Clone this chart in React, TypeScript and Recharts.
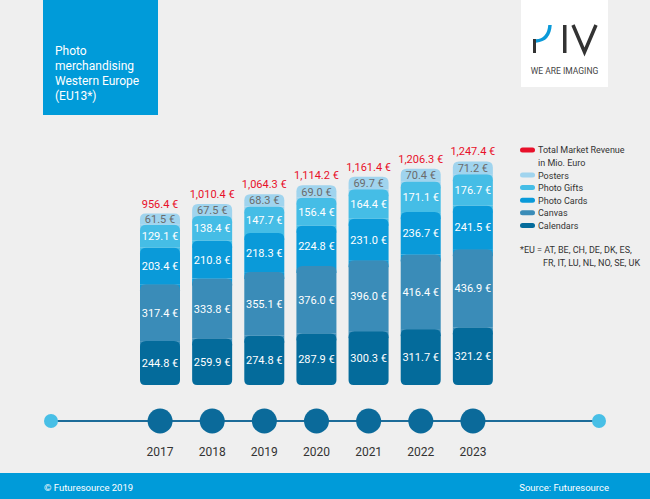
import { BarChart, Bar, XAxis, YAxis, LabelList } from "recharts";

const years = ["2017", "2018", "2019", "2020", "2021", "2022", "2023"];
const calendars = [244.8, 259.9, 274.8, 287.9, 300.3, 311.7, 321.2];
const canvas = [317.4, 333.8, 355.1, 376.0, 396.0, 416.4, 436.9];
const photoCards = [203.4, 210.8, 218.3, 224.8, 231.0, 236.7, 241.5];
const photoGifts = [129.1, 138.4, 147.7, 156.4, 164.4, 171.1, 176.7];
const posters = [61.5, 67.5, 68.3, 69.0, 69.7, 70.4, 71.2];
const totals = [956.4, 1010.4, 1064.3, 1114.2, 1161.4, 1206.3, 1247.4];

const COLORS = {
  calendars: "#046b9b",
  canvas: "#3a8cb8",
  photoCards: "#0a9ad9",
  photoGifts: "#45bde6",
  posters: "#a0d4ee",
  total: "#e8102a",
};

const FONT = "Roboto, 'DejaVu Sans', sans-serif";

const data = years.map((year, i) => ({
  year,
  calendars: calendars[i],
  canvas: canvas[i],
  photoCards: photoCards[i],
  photoGifts: photoGifts[i],
  posters: posters[i],
  total: totals[i],
}));

const fmt = (v: any) => `${Number(v).toFixed(1)} €`;
const fmtTotal = (v: any) =>
  `${Number(v).toLocaleString("en-US", { minimumFractionDigits: 1, maximumFractionDigits: 1 })} €`;

function roundedPath(x: number, y: number, w: number, h: number, rt: number, rb: number) {
  const t = Math.min(rt, h / 2, w / 2);
  const b = Math.min(rb, h / 2, w / 2);
  return [
    `M${x},${y + t}`,
    `Q${x},${y} ${x + t},${y}`,
    `L${x + w - t},${y}`,
    `Q${x + w},${y} ${x + w},${y + t}`,
    `L${x + w},${y + h - b}`,
    `Q${x + w},${y + h} ${x + w - b},${y + h}`,
    `L${x + b},${y + h}`,
    `Q${x},${y + h} ${x},${y + h - b}`,
    "Z",
  ].join(" ");
}

// each segment has rounded top corners; the colour of the segment above shows in the corners
function segment(above: string | null, bottomRadius: number) {
  return (props: any) => {
    const { x, y, width, height, fill } = props;
    if (!height || height <= 0) return <g />;
    return (
      <g>
        {above && <rect x={x} y={y} width={width} height={Math.min(7, height)} fill={above} />}
        <path d={roundedPath(x, y, width, height, 6, bottomRadius)} fill={fill} />
      </g>
    );
  };
}

// label drawn without wrapping; "top" puts it above the bar
function barLabel(color: string, format: (v: any) => string, top = false) {
  return (props: any) => {
    const vb = props.viewBox && props.viewBox.width != null ? props.viewBox : props;
    const x = Number(vb.x) + Number(vb.width) / 2;
    const y = top ? Number(vb.y) - 6 : Number(vb.y) + Number(vb.height) / 2 + 4;
    return (
      <text x={x} y={y} textAnchor="middle" fontSize={11} fill={color} fontFamily={FONT}>
        {format(props.value)}
      </text>
    );
  };
}

function YearTick(props: any) {
  const { x, payload } = props;
  return (
    <g>
      <circle cx={x} cy={421} r={12.5} fill="#0b6a9a" />
      <text x={x} y={456} textAnchor="middle" fontSize={12} fill="#333" fontFamily={FONT}>
        {payload.value}
      </text>
    </g>
  );
}

const legendItems = [
  { label: "Posters", color: COLORS.posters },
  { label: "Photo Gifts", color: COLORS.photoGifts },
  { label: "Photo Cards", color: COLORS.photoCards },
  { label: "Canvas", color: COLORS.canvas },
  { label: "Calendars", color: COLORS.calendars },
];

export default function App() {
  return (
    <div
      style={{
        position: "absolute",
        top: 0,
        left: 0,
        width: 650,
        height: 499,
        background: "#efefef",
        fontFamily: FONT,
        overflow: "hidden",
      }}
    >
      <svg width={650} height={499} style={{ position: "absolute", left: 0, top: 0 }}>
        {/* header box */}
        <rect x={43} y={0} width={115} height={115} fill="#009bd9" />
        <text x={55} y={55} fontSize={12} fill="#fff">
          <tspan x={55} dy={0}>Photo</tspan>
          <tspan x={55} dy={15}>merchandising</tspan>
          <tspan x={55} dy={15}>Western Europe</tspan>
          <tspan x={55} dy={15}>(EU13*)</tspan>
        </text>

        {/* logo */}
        <rect x={521} y={0} width={87} height={87} fill="#fff" />
        <rect x={533} y={39} width={3} height={14} fill="#333" />
        <path d="M536,41 Q549,40 550,25" stroke="#0a9ad9" strokeWidth={3.5} fill="none" />
        <rect x={563} y={25} width={3.5} height={28} fill="#333" />
        <polyline points="573,25 584.5,52 596,25" stroke="#333" strokeWidth={3.5} fill="none" />
        <text x={564.5} y={74} textAnchor="middle" fontSize={8.5} fill="#444">
          WE ARE IMAGING
        </text>

        {/* legend */}
        <rect x={520} y={147.5} width={15} height={5} rx={2.5} fill={COLORS.total} />
        <text x={538} y={153} fontSize={9} fill="#333">Total Market Revenue</text>
        <text x={538} y={166} fontSize={9} fill="#333">in Mio. Euro</text>
        {legendItems.map((it, i) => (
          <g key={it.label}>
            <rect x={520} y={172.5 + i * 12.6} width={15} height={5} rx={2.5} fill={it.color} />
            <text x={538} y={178.5 + i * 12.6} fontSize={9} fill="#333">
              {it.label}
            </text>
          </g>
        ))}
        <text x={520} y={253} fontSize={9} fill="#333">*EU = AT, BE, CH, DE, DK, ES,</text>
        <text x={543} y={266} fontSize={9} fill="#333">FR, IT, LU, NL, NO, SE, UK</text>

        {/* timeline */}
        <line x1={51} x2={599} y1={421} y2={421} stroke="#1d6c99" strokeWidth={2} />
        <circle cx={51} cy={421} r={7} fill="#48bfe6" />
        <circle cx={599} cy={421} r={7} fill="#48bfe6" />

        {/* footer */}
        <rect x={0} y={473} width={650} height={26} fill="#009bd9" />
        <text x={44} y={491} fontSize={9.5} fill="#fff">© Futuresource 2019</text>
        <text x={609} y={491} fontSize={9.5} fill="#fff" textAnchor="end">Source: Futuresource</text>
      </svg>

      <div style={{ position: "absolute", left: 0, top: 0 }}>
        <BarChart
          width={650}
          height={499}
          data={data}
          margin={{ top: 152, right: 151, bottom: 84, left: 134 }}
          barSize={40}
        >
          <XAxis
            dataKey="year"
            height={30}
            axisLine={false}
            tickLine={false}
            tick={<YearTick />}
            interval={0}
          />
          <YAxis hide domain={[0, 1300]} />
          <Bar
            dataKey="calendars"
            stackId="a"
            fill={COLORS.calendars}
            shape={segment(COLORS.canvas, 5)}
            isAnimationActive={false}
          >
            <LabelList dataKey="calendars" content={barLabel("#fff", fmt)} />
          </Bar>
          <Bar
            dataKey="canvas"
            stackId="a"
            fill={COLORS.canvas}
            shape={segment(COLORS.photoCards, 0)}
            isAnimationActive={false}
          >
            <LabelList dataKey="canvas" content={barLabel("#fff", fmt)} />
          </Bar>
          <Bar
            dataKey="photoCards"
            stackId="a"
            fill={COLORS.photoCards}
            shape={segment(COLORS.photoGifts, 0)}
            isAnimationActive={false}
          >
            <LabelList dataKey="photoCards" content={barLabel("#fff", fmt)} />
          </Bar>
          <Bar
            dataKey="photoGifts"
            stackId="a"
            fill={COLORS.photoGifts}
            shape={segment(COLORS.posters, 0)}
            isAnimationActive={false}
          >
            <LabelList dataKey="photoGifts" content={barLabel("#fff", fmt)} />
          </Bar>
          <Bar
            dataKey="posters"
            stackId="a"
            fill={COLORS.posters}
            shape={segment(null, 0)}
            isAnimationActive={false}
          >
            <LabelList dataKey="posters" content={barLabel("#6b6b6b", fmt)} />
            <LabelList dataKey="total" content={barLabel(COLORS.total, fmtTotal, true)} />
          </Bar>
        </BarChart>
      </div>
    </div>
  );
}
